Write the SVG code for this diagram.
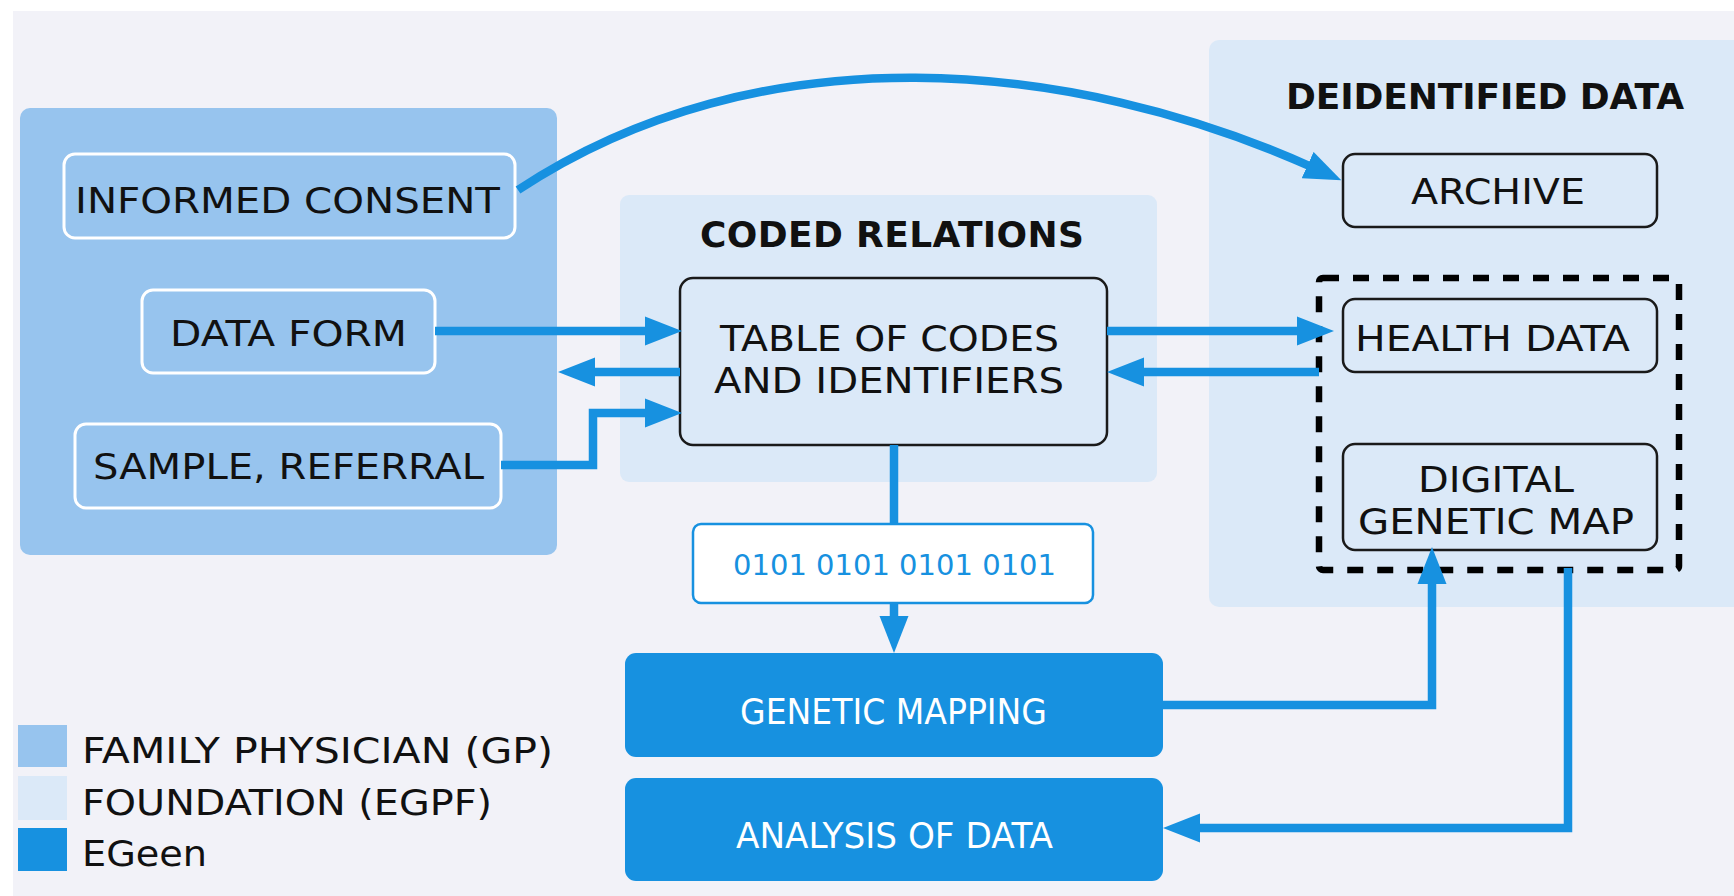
<svg xmlns="http://www.w3.org/2000/svg" width="1734" height="896" viewBox="0 0 1734 896">
<style>
.bg{fill:#f2f2f8}
.gp{fill:#97c4ee}
.fd{fill:#dbe9f8}
.eg{fill:#1791e0}
.wbox{fill:#97c4ee;stroke:#ffffff;stroke-width:3}
.kbox{fill:#dbe9f8;stroke:#1a1a1a;stroke-width:2.5}
.t{font-family:"DejaVu Sans","Liberation Sans",sans-serif;font-size:36px;fill:#111}
.h{font-family:"DejaVu Sans","Liberation Sans",sans-serif;font-size:36px;font-weight:bold;fill:#111}
.w{font-family:"DejaVu Sans Condensed","DejaVu Sans","Liberation Sans",sans-serif;font-stretch:condensed;font-size:36px;fill:#ffffff}
.c{fill:none;stroke:#1791e0;stroke-width:8.5;stroke-linejoin:miter}
</style>
<defs>
<marker id="ah" markerUnits="userSpaceOnUse" viewBox="0 -15 37 30" markerWidth="37" markerHeight="30" refX="7" refY="0" orient="auto">
<path d="M0,-14.5 L37,0 L0,14.5 z" fill="#1791e0"/>
</marker>
</defs>
<rect class="bg" x="13" y="11" width="1721" height="885"/>

<g id="panel-gp"><rect class="gp" x="20" y="108" width="537" height="447" rx="10"/></g>
<g id="panel-coded"><rect class="fd" x="620" y="195" width="537" height="287" rx="9"/>
<text class="h" x="700" y="247" textLength="384">CODED RELATIONS</text></g>
<g id="panel-deid"><rect class="fd" x="1209" y="40" width="545" height="567" rx="10"/>
<text class="h" x="1286" y="108.5" textLength="398">DEIDENTIFIED DATA</text></g>

<g id="informed-consent"><rect class="wbox" x="64" y="154" width="451" height="84" rx="11"/>
<text class="t" x="75" y="212.5" textLength="425" lengthAdjust="spacingAndGlyphs">INFORMED CONSENT</text></g>
<g id="data-form"><rect class="wbox" x="142" y="290" width="293" height="83" rx="11"/>
<text class="t" x="170" y="345.5" textLength="237" lengthAdjust="spacingAndGlyphs">DATA FORM</text></g>
<g id="sample-referral"><rect class="wbox" x="75" y="424" width="426" height="84" rx="11"/>
<text class="t" x="93" y="479" textLength="391" lengthAdjust="spacingAndGlyphs">SAMPLE, REFERRAL</text></g>

<g id="table-codes"><rect class="kbox" x="680" y="278" width="427" height="167" rx="13" stroke-width="3"/>
<text class="t" x="720" y="350.5" textLength="339" lengthAdjust="spacingAndGlyphs">TABLE OF CODES</text>
<text class="t" x="714" y="392.5" textLength="350" lengthAdjust="spacingAndGlyphs">AND IDENTIFIERS</text></g>

<g id="archive"><rect class="kbox" x="1343" y="154" width="314" height="73" rx="12"/>
<text class="t" x="1411" y="203.5" textLength="174" lengthAdjust="spacingAndGlyphs">ARCHIVE</text></g>
<g id="dashed-group"><rect x="1319" y="278" width="360" height="292" rx="4" fill="none" stroke="#000" stroke-width="6.5" stroke-dasharray="16 14"/></g>
<g id="health-data"><rect class="kbox" x="1343" y="299" width="314" height="73" rx="12"/>
<text class="t" x="1355" y="350.5" textLength="275" lengthAdjust="spacingAndGlyphs">HEALTH DATA</text></g>
<g id="genetic-map"><rect class="kbox" x="1343" y="444" width="314" height="106" rx="12"/>
<text class="t" x="1418" y="491.5" textLength="156" lengthAdjust="spacingAndGlyphs">DIGITAL</text>
<text class="t" x="1358" y="533.5" textLength="276" lengthAdjust="spacingAndGlyphs">GENETIC MAP</text></g>

<g id="code-string"><rect x="693" y="524" width="400" height="79" rx="8" fill="#ffffff" stroke="#1791e0" stroke-width="2.5"/>
<text x="733" y="575" textLength="323" style="font-family:'DejaVu Sans','Liberation Sans',sans-serif;font-size:29px;fill:#1791e0">0101 0101 0101 0101</text></g>

<g id="genetic-mapping"><rect class="eg" x="625" y="653" width="538" height="104" rx="11"/>
<text class="w" x="740" y="723.5" textLength="307" lengthAdjust="spacingAndGlyphs">GENETIC MAPPING</text></g>
<g id="analysis"><rect class="eg" x="625" y="778" width="538" height="103" rx="11"/>
<text class="w" x="736" y="847.5" textLength="317" lengthAdjust="spacingAndGlyphs">ANALYSIS OF DATA</text></g>

<g id="legend">
<rect class="gp" x="18" y="725" width="49" height="42"/>
<rect class="fd" x="18" y="776" width="49" height="44"/>
<rect class="eg" x="18" y="828" width="49" height="43"/>
<text class="t" x="82" y="763" textLength="471" lengthAdjust="spacingAndGlyphs">FAMILY PHYSICIAN (GP)</text>
<text class="t" x="82" y="814.5" textLength="410" lengthAdjust="spacingAndGlyphs">FOUNDATION (EGPF)</text>
<text class="t" x="82" y="865.5" textLength="125" lengthAdjust="spacingAndGlyphs">EGeen</text>
</g>

<g id="connectors">
<path class="c" d="M518,190 C760,30 1070,58 1314,168" marker-end="url(#ah)"/>
<path class="c" d="M435,331 H652" marker-end="url(#ah)"/>
<path class="c" d="M680,372 H588" marker-end="url(#ah)"/>
<path class="c" d="M501,465 H593 V413 H652" marker-end="url(#ah)"/>
<path class="c" d="M1107,331 H1304" marker-end="url(#ah)"/>
<path class="c" d="M1319,372 H1137" marker-end="url(#ah)"/>
<path class="c" d="M894,445 V524"/>
<path class="c" d="M894,603 V623" marker-end="url(#ah)"/>
<path class="c" d="M1163,705 H1432 V577" marker-end="url(#ah)"/>
<path class="c" d="M1568,568 V828 H1193" marker-end="url(#ah)"/>
</g>
</svg>
